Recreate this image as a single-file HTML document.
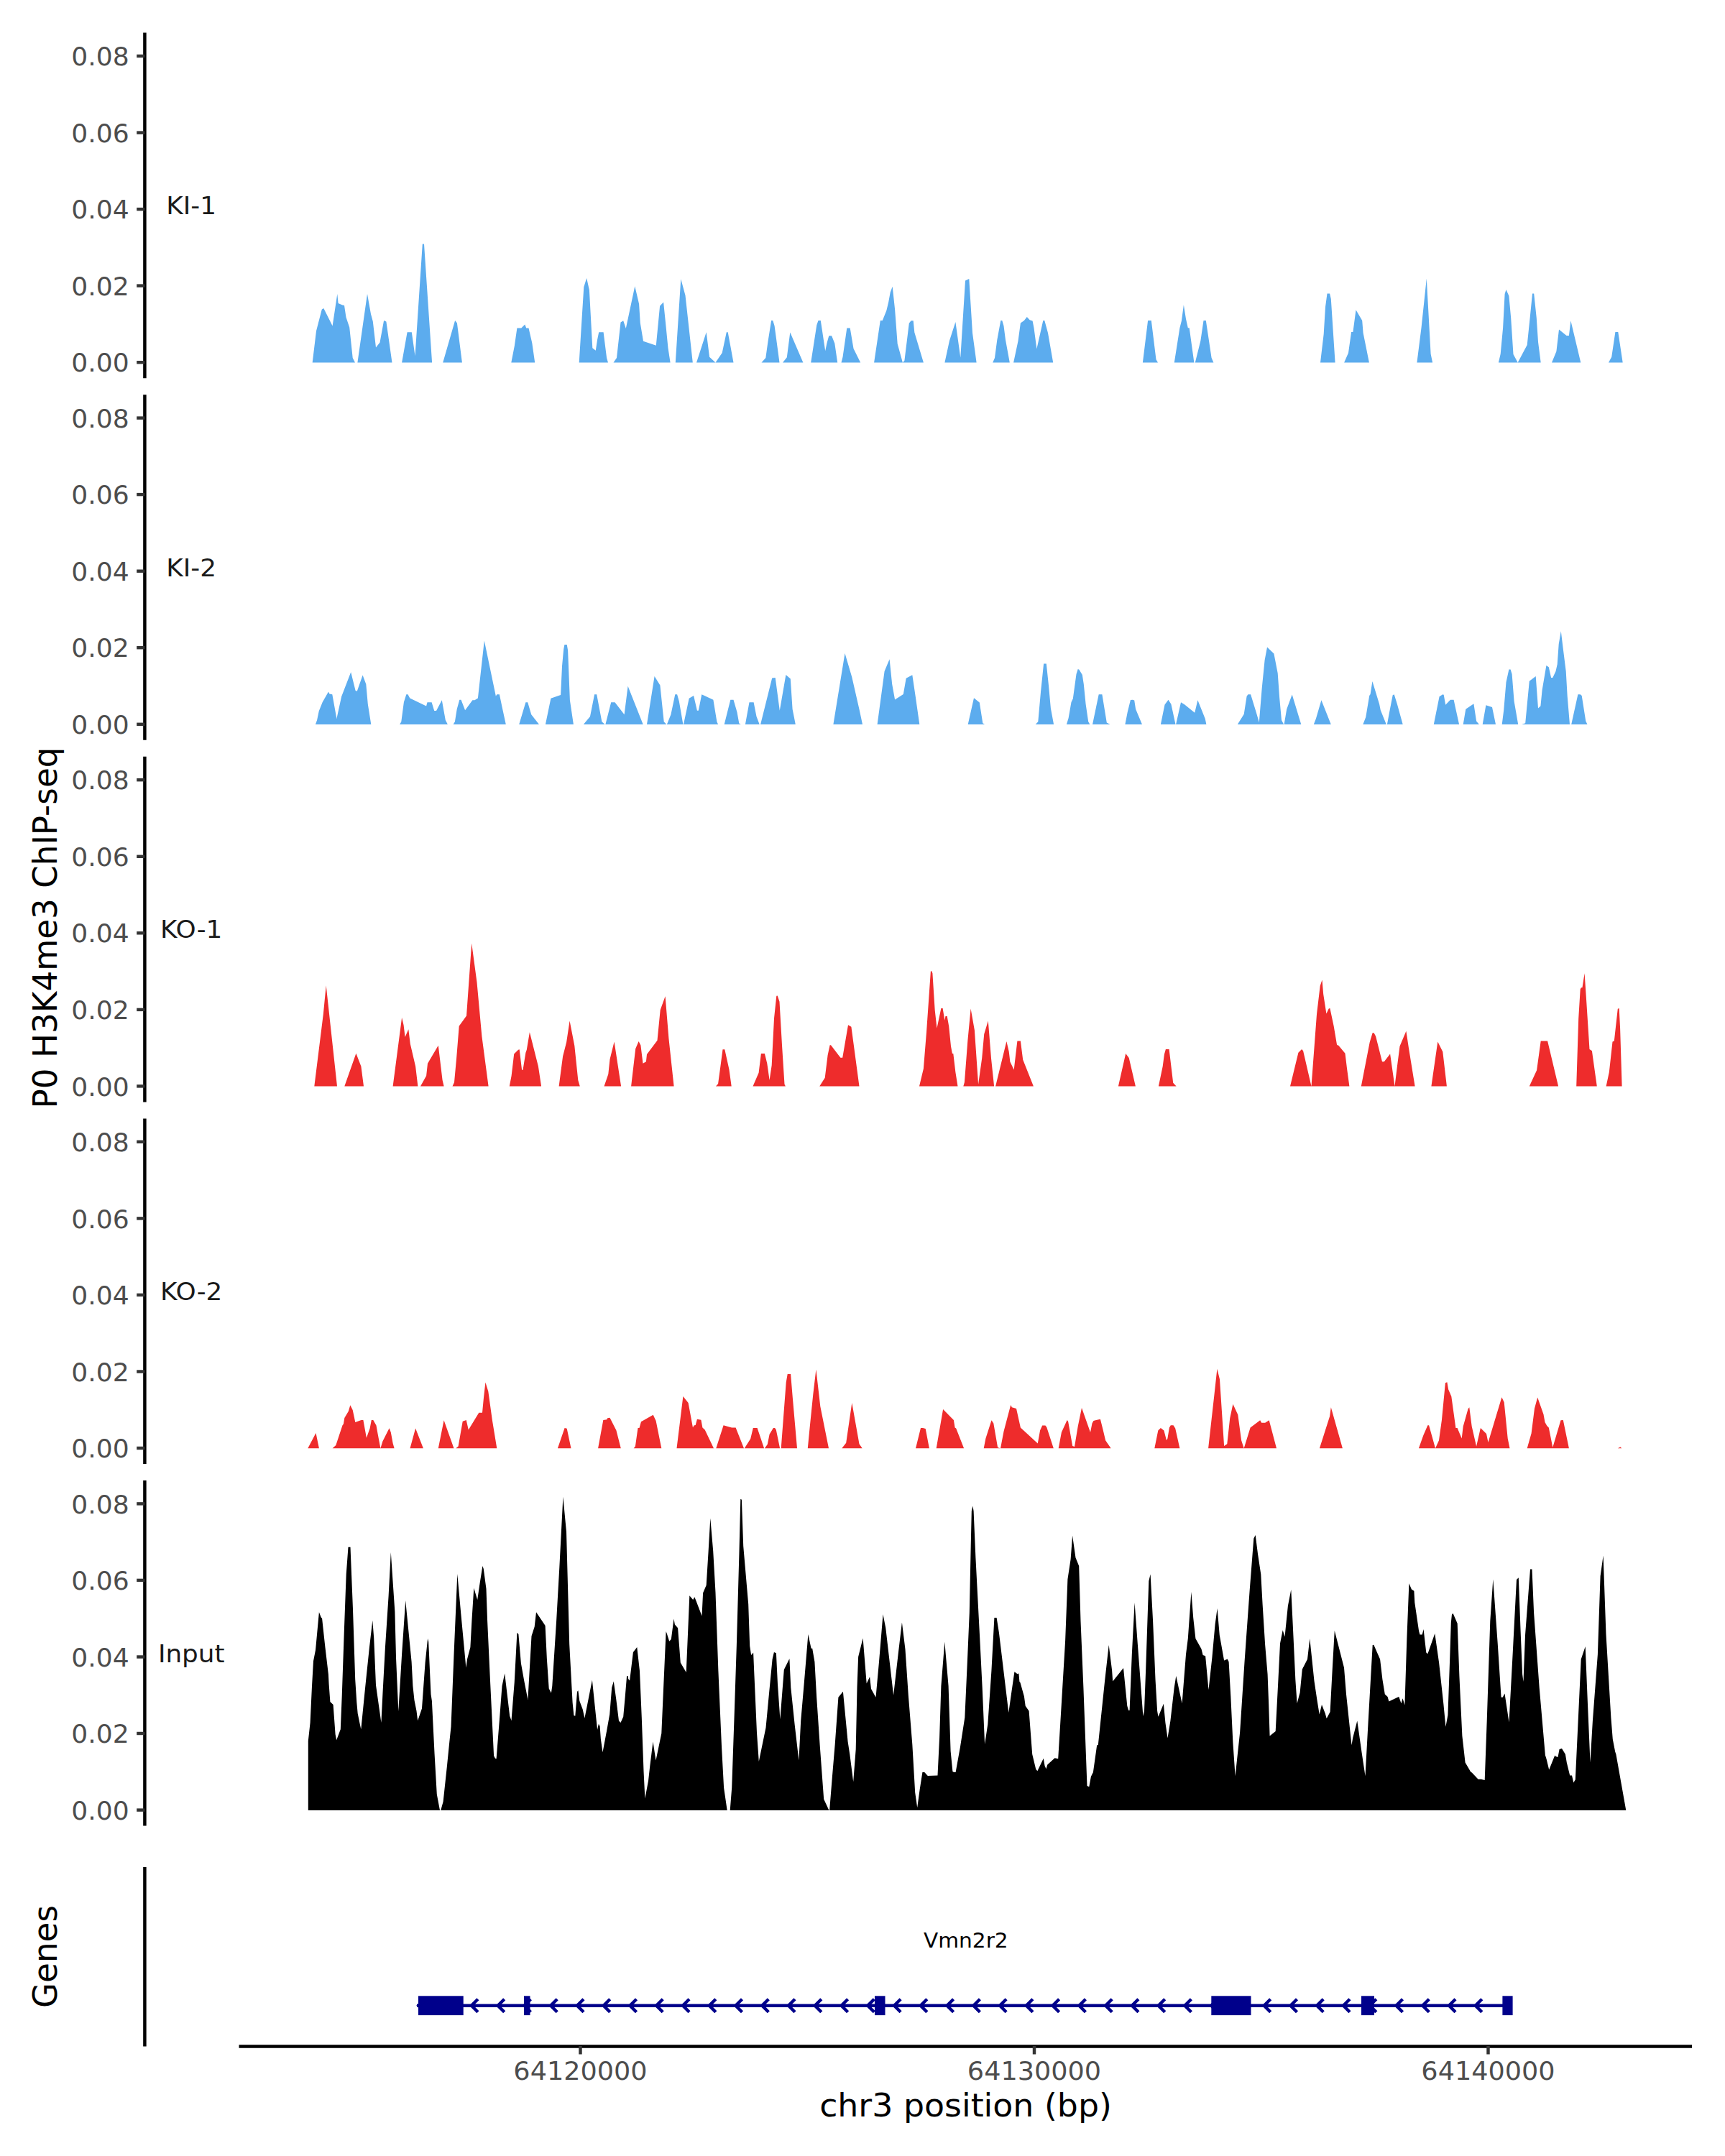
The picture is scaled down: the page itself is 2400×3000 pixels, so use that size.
<!DOCTYPE html>
<html><head><meta charset="utf-8"><title>Coverage plot</title>
<style>html,body{margin:0;padding:0;background:#fff}svg{display:block}text{font-family:"DejaVu Sans","Liberation Sans",sans-serif}</style></head>
<body>
<svg width="2400" height="3000" viewBox="0 0 2400 3000">
<rect width="2400" height="3000" fill="#fff"/>
<g>
<path d="M434.7,504.4 440.0,460.5 447.8,430.5 450.3,429.1 462.6,453.6 469.3,409.0 470.6,422.1 476.5,424.6 479.0,424.9 481.5,441.6 486.2,455.5 490.7,498.1 494.0,504.4ZM497.4,504.4 511.0,409.0 516.0,436.9 518.8,447.2 523.0,483.6 528.5,476.4 534.1,446.1 537.4,447.4 545.5,504.4ZM559.1,504.4 566.6,462.2 572.8,462.2 577.5,495.3 587.8,339.5 590.0,339.5 601.1,504.4ZM616.2,504.4 633.1,446.1 635.9,449.4 642.9,504.4ZM711.3,504.4 715.8,481.4 719.4,456.6 725.3,456.6 730.3,451.6 732.2,456.6 735.5,456.6 740.3,477.2 744.2,504.4ZM805.7,504.4 812.3,399.3 816.2,387.1 819.9,403.5 824.3,484.2 828.8,487.8 831.0,473.0 833.2,462.2 839.6,462.2 844.1,498.1 846.0,504.4ZM853.5,504.4 858.0,498.1 863.5,448.6 867.2,446.3 870.8,456.9 883.3,398.2 889.1,423.0 890.8,449.4 895.0,474.7 912.8,480.8 918.1,425.7 923.1,420.5 926.2,450.8 929.5,484.2 932.6,504.4ZM939.8,504.4 947.3,388.2 953.5,411.0 963.8,504.4ZM969.0,504.4 982.7,462.2 987.1,496.7 995.5,504.4 1004.7,491.1 1010.8,462.2 1012.7,462.2 1020.5,504.4ZM1059.5,504.4 1065.3,498.1 1068.4,475.8 1073.1,446.1 1075.3,446.1 1077.6,453.6 1084.5,504.4ZM1089.0,504.4 1094.8,497.3 1099.3,462.5 1117.4,504.4ZM1128.2,504.4 1136.3,452.2 1138.5,446.1 1141.8,446.1 1148.2,488.3 1150.5,477.2 1153.3,467.2 1157.1,467.2 1161.3,477.8 1165.2,504.4ZM1170.5,504.4 1172.5,496.7 1178.3,456.6 1182.7,456.6 1187.5,485.0 1197.2,504.4ZM1216.1,504.4 1224.8,446.1 1227.8,446.1 1233.4,432.1 1236.2,420.2 1238.7,406.8 1241.7,398.7 1245.1,430.5 1248.7,478.6 1255.9,504.4 1258.4,501.7 1264.8,449.7 1267.6,446.3 1270.7,446.3 1272.3,462.5 1284.9,504.4ZM1314.4,504.4 1321.0,473.9 1329.4,448.0 1336.3,497.5 1343.0,390.4 1348.3,387.9 1353.0,463.3 1358.6,504.4ZM1381.2,504.4 1384.0,498.1 1387.3,473.0 1392.3,446.1 1394.3,446.1 1396.5,453.6 1399.0,473.0 1404.8,504.4ZM1410.1,504.4 1416.5,474.4 1419.9,449.4 1424.9,446.1 1428.8,441.0 1432.7,445.2 1436.6,446.6 1438.5,456.3 1442.4,485.6 1451.3,446.1 1453.3,446.1 1458.0,463.3 1465.2,504.4ZM1589.9,504.4 1597.1,446.1 1601.8,446.1 1608.5,500.3 1611.0,504.4ZM1630.8,504.4 1633.8,504.4 1641.4,456.3 1643.9,446.6 1646.9,424.3 1650.0,443.8 1652.8,456.3 1654.7,456.3 1661.4,504.4ZM1662.8,504.4 1670.3,474.4 1674.5,446.1 1677.8,446.1 1685.6,498.1 1688.4,504.4ZM1837.0,504.4 1841.7,464.7 1844.0,427.1 1846.5,408.5 1850.1,408.5 1851.8,416.0 1857.6,504.4ZM1870.1,504.4 1876.0,491.1 1880.1,461.9 1882.4,461.9 1886.5,431.3 1895.2,446.1 1896.6,463.3 1904.9,504.4ZM1971.4,504.4 1977.5,456.3 1984.8,387.6 1990.6,492.5 1993.1,504.4ZM2084.9,504.4 2087.7,492.5 2091.1,456.3 2093.6,409.0 2095.5,402.9 2099.4,411.8 2102.2,442.4 2105.5,493.1 2111.7,504.4 2124.7,480.0 2128.6,442.4 2132.0,408.5 2134.2,408.5 2137.8,442.4 2140.0,475.8 2143.7,504.4ZM2159.0,504.4 2165.4,488.9 2169.0,458.6 2179.5,466.9 2182.9,466.9 2185.4,446.3 2199.3,504.4ZM2238.0,504.4 2242.2,496.7 2247.4,461.9 2251.3,461.9 2257.7,504.4Z" fill="#5CACEE"/>
<line x1="201.4" x2="201.4" y1="45.6" y2="526.2" stroke="#000" stroke-width="4.45"/>
<line x1="190.2" x2="201.4" y1="504.2" y2="504.2" stroke="#333" stroke-width="4.45"/>
<text transform="translate(179.7,517.3) scale(1,0.962)" font-size="36.1" fill="#4D4D4D" text-anchor="end">0.00</text>
<line x1="190.2" x2="201.4" y1="397.6" y2="397.6" stroke="#333" stroke-width="4.45"/>
<text transform="translate(179.7,410.8) scale(1,0.962)" font-size="36.1" fill="#4D4D4D" text-anchor="end">0.02</text>
<line x1="190.2" x2="201.4" y1="291.1" y2="291.1" stroke="#333" stroke-width="4.45"/>
<text transform="translate(179.7,304.2) scale(1,0.962)" font-size="36.1" fill="#4D4D4D" text-anchor="end">0.04</text>
<line x1="190.2" x2="201.4" y1="184.6" y2="184.6" stroke="#333" stroke-width="4.45"/>
<text transform="translate(179.7,197.7) scale(1,0.962)" font-size="36.1" fill="#4D4D4D" text-anchor="end">0.06</text>
<line x1="190.2" x2="201.4" y1="78.0" y2="78.0" stroke="#333" stroke-width="4.45"/>
<text transform="translate(179.7,91.1) scale(1,0.962)" font-size="36.1" fill="#4D4D4D" text-anchor="end">0.08</text>
<text transform="translate(266.2,298.2) scale(1,0.962)" font-size="35.8" fill="#1A1A1A" text-anchor="middle">KI-1</text>
</g>
<g>
<path d="M438.9,1008.0 441.1,1002.1 443.7,989.6 448.7,977.0 457.0,962.6 458.4,965.4 462.3,966.2 468.4,1000.1 475.1,969.3 488.2,935.3 494.6,960.9 496.8,961.7 504.6,939.5 509.3,952.0 511.8,979.8 516.3,1008.0ZM556.1,1008.0 558.3,1004.3 561.9,977.0 565.3,966.2 567.5,966.2 570.3,971.5 593.1,982.6 594.5,977.3 600.6,977.3 604.2,989.0 607.0,989.0 614.8,974.3 619.8,1002.1 622.9,1008.0ZM630.6,1008.0 632.9,1004.3 635.7,986.8 639.3,973.7 641.5,973.7 647.1,988.2 657.4,974.3 660.4,974.3 664.9,971.5 673.8,891.6 689.9,968.7 691.3,966.2 694.9,966.2 698.3,982.6 703.8,1008.0ZM722.2,1008.0 731.4,977.3 734.2,977.3 739.2,994.3 750.0,1008.0ZM758.9,1008.0 766.4,971.8 780.1,967.0 782.0,927.0 784.2,903.3 785.4,896.9 788.7,896.9 790.1,904.7 792.9,974.3 797.9,1008.0ZM811.8,1008.0 821.0,997.1 827.1,966.2 830.2,966.2 837.4,1004.3 841.6,1008.0ZM842.4,1008.0 850.2,977.3 855.5,977.3 868.6,994.3 873.6,954.8 894.7,1008.0ZM900.0,1008.0 910.6,940.9 918.4,953.4 923.7,1004.3 927.3,1008.0ZM927.9,1008.0 933.4,994.3 939.3,966.2 942.1,966.2 944.8,975.7 950.4,1008.0ZM951.0,1008.0 958.7,971.8 965.1,968.1 969.9,988.7 971.8,988.7 976.3,966.2 992.4,973.7 997.4,1004.3 999.1,1008.0ZM1007.7,1008.0 1016.3,973.7 1020.5,973.7 1025.5,991.0 1028.3,1006.5 1030.8,1008.0ZM1036.9,1008.0 1042.5,977.3 1048.6,977.3 1052.5,997.1 1056.7,1008.0ZM1058.1,1008.0 1074.2,943.4 1078.7,943.1 1084.8,988.7 1093.4,938.9 1099.8,944.5 1102.6,986.8 1106.8,1008.0ZM1159.4,1008.0 1175.5,908.9 1185.3,942.3 1195.8,988.2 1200.0,1008.0ZM1220.6,1008.0 1230.6,933.9 1237.6,917.2 1241.2,952.0 1245.1,973.4 1256.8,965.9 1260.7,943.7 1269.3,939.2 1273.7,968.7 1279.3,1008.0ZM1346.7,1008.0 1355.0,971.2 1362.8,977.6 1367.3,1006.3 1370.1,1008.0ZM1440.7,1008.0 1444.3,1004.3 1448.0,963.1 1452.1,923.6 1455.8,923.6 1459.1,954.8 1461.9,985.4 1466.1,1008.0ZM1483.9,1008.0 1486.6,999.3 1490.5,977.0 1492.8,972.3 1497.5,938.1 1499.7,931.1 1501.4,931.7 1505.8,938.9 1507.8,952.0 1510.6,979.8 1514.2,1004.3 1516.4,1008.0ZM1520.0,1008.0 1528.7,966.2 1533.4,966.2 1539.8,1005.4 1544.5,1008.0ZM1551.5,1008.0 1565.4,1008.0 1568.7,991.0 1572.9,974.0 1575.7,973.7 1578.2,974.5 1580.1,986.8 1589.0,1008.0ZM1614.9,1008.0 1620.5,980.4 1625.5,973.7 1629.4,979.8 1635.5,1008.0ZM1636.1,1008.0 1643.0,977.3 1648.3,980.4 1662.2,991.8 1666.4,974.3 1676.7,999.9 1678.4,1008.0ZM1721.8,1008.0 1730.7,993.7 1734.6,968.7 1736.5,966.2 1740.1,966.2 1747.7,991.0 1751.8,1004.9 1755.7,957.6 1759.6,918.6 1763.0,900.5 1772.4,909.4 1777.7,936.7 1780.2,971.5 1783.0,1002.1 1786.1,1008.0ZM1786.6,1008.0 1790.2,986.8 1797.7,966.5 1810.3,1008.0ZM1827.8,1008.0 1830.9,999.9 1838.4,974.3 1851.8,1008.0ZM1896.3,1008.0 1900.2,997.9 1905.2,967.9 1906.6,965.9 1909.4,948.1 1919.1,979.8 1920.8,988.2 1928.8,1008.0ZM1929.9,1008.0 1933.6,988.2 1937.7,967.3 1939.7,966.2 1943.9,979.8 1951.7,1008.0ZM1994.8,1008.0 2002.6,969.3 2007.3,966.2 2008.7,966.7 2011.2,980.7 2017.9,973.7 2022.6,973.7 2025.4,986.8 2030.1,1008.0ZM2035.7,1008.0 2039.3,986.8 2050.4,979.3 2054.1,1003.5 2057.9,1008.0ZM2062.7,1008.0 2067.4,981.2 2076.0,984.0 2081.0,1008.0ZM2089.7,1008.0 2092.2,988.2 2095.5,949.2 2099.4,931.4 2101.6,931.4 2103.6,938.1 2106.6,975.7 2112.2,1008.0ZM2117.2,1008.0 2122.2,1006.3 2127.8,947.8 2136.7,941.1 2140.0,985.4 2143.4,982.6 2145.6,960.3 2151.4,926.1 2154.8,928.3 2158.1,943.1 2160.3,943.1 2164.5,933.9 2166.7,924.2 2168.7,896.3 2171.8,878.3 2174.3,899.1 2178.7,933.9 2180.7,968.7 2184.0,1008.0ZM2186.2,1008.0 2195.4,966.2 2198.7,966.2 2200.7,968.1 2206.3,1003.5 2208.5,1008.0Z" fill="#5CACEE"/>
<line x1="201.4" x2="201.4" y1="549.2" y2="1029.8" stroke="#000" stroke-width="4.45"/>
<line x1="190.2" x2="201.4" y1="1007.8" y2="1007.8" stroke="#333" stroke-width="4.45"/>
<text transform="translate(179.7,1020.9) scale(1,0.962)" font-size="36.1" fill="#4D4D4D" text-anchor="end">0.00</text>
<line x1="190.2" x2="201.4" y1="901.2" y2="901.2" stroke="#333" stroke-width="4.45"/>
<text transform="translate(179.7,914.4) scale(1,0.962)" font-size="36.1" fill="#4D4D4D" text-anchor="end">0.02</text>
<line x1="190.2" x2="201.4" y1="794.7" y2="794.7" stroke="#333" stroke-width="4.45"/>
<text transform="translate(179.7,807.8) scale(1,0.962)" font-size="36.1" fill="#4D4D4D" text-anchor="end">0.04</text>
<line x1="190.2" x2="201.4" y1="688.1" y2="688.1" stroke="#333" stroke-width="4.45"/>
<text transform="translate(179.7,701.2) scale(1,0.962)" font-size="36.1" fill="#4D4D4D" text-anchor="end">0.06</text>
<line x1="190.2" x2="201.4" y1="581.6" y2="581.6" stroke="#333" stroke-width="4.45"/>
<text transform="translate(179.7,594.7) scale(1,0.962)" font-size="36.1" fill="#4D4D4D" text-anchor="end">0.08</text>
<text transform="translate(266.2,801.8) scale(1,0.962)" font-size="35.8" fill="#1A1A1A" text-anchor="middle">KI-2</text>
</g>
<g>
<path d="M437.3,1511.6 449.8,1411.3 453.7,1371.2 469.0,1511.6ZM479.3,1511.6 495.4,1465.8 502.4,1483.7 506.0,1511.6ZM546.6,1511.6 559.1,1416.0 561.6,1426.6 563.6,1443.0 568.3,1432.2 570.8,1452.5 578.1,1483.7 581.4,1511.6ZM585.0,1511.6 593.1,1497.0 595.0,1479.8 609.8,1454.7 615.6,1503.1 617.6,1511.6ZM629.5,1511.6 632.0,1505.9 635.1,1472.5 638.7,1427.7 649.0,1413.5 656.2,1312.5 663.5,1366.8 670.4,1441.9 679.6,1511.6ZM708.8,1511.6 711.6,1497.0 715.2,1466.4 721.1,1460.8 722.7,1460.3 726.1,1488.7 727.5,1488.7 731.4,1464.7 732.8,1460.8 736.9,1436.3 748.9,1483.7 753.1,1511.6ZM777.6,1511.6 783.1,1469.7 788.1,1450.3 792.6,1420.5 799.3,1455.0 804.3,1503.1 806.8,1511.6ZM840.5,1511.6 846.3,1494.8 848.5,1473.9 854.6,1449.4 864.1,1511.6ZM878.1,1511.6 884.2,1459.2 888.6,1449.1 891.4,1454.4 894.5,1479.8 898.9,1477.3 900.0,1467.0 914.5,1447.8 918.7,1405.2 925.6,1386.3 930.4,1444.7 937.6,1511.6ZM996.0,1511.6 999.1,1508.1 1002.4,1483.7 1005.5,1460.3 1008.3,1460.3 1014.4,1487.8 1017.7,1511.6ZM1047.5,1511.6 1055.6,1492.8 1058.9,1466.1 1063.9,1466.1 1067.3,1479.8 1070.6,1503.1 1073.7,1482.3 1077.0,1416.9 1080.3,1385.7 1081.7,1385.4 1084.5,1393.8 1088.1,1455.8 1091.5,1508.7 1092.9,1511.6ZM1140.2,1511.6 1147.7,1499.8 1151.6,1468.3 1154.6,1454.2 1156.0,1454.2 1169.4,1471.7 1172.2,1471.7 1180.0,1426.3 1184.4,1428.8 1195.5,1511.6ZM1279.0,1511.6 1284.9,1487.0 1289.0,1436.3 1294.9,1351.5 1296.3,1351.2 1297.4,1354.3 1300.7,1405.7 1303.5,1430.8 1309.4,1403.0 1311.6,1403.0 1314.4,1419.7 1315.5,1414.1 1317.7,1414.1 1320.2,1428.0 1323.0,1455.8 1324.9,1466.1 1326.3,1466.1 1329.4,1492.0 1332.5,1511.6ZM1340.3,1511.6 1341.9,1505.9 1346.4,1447.5 1350.6,1403.5 1355.9,1433.6 1361.1,1508.7 1366.2,1472.5 1369.2,1439.1 1374.8,1420.5 1379.0,1472.5 1383.1,1511.6ZM1385.1,1511.6 1400.4,1448.9 1403.7,1463.3 1405.4,1477.5 1410.7,1488.4 1413.2,1467.0 1415.4,1448.6 1419.9,1448.6 1423.2,1474.5 1437.9,1511.6ZM1555.9,1511.6 1566.2,1466.1 1570.7,1472.0 1579.9,1511.6ZM1611.9,1511.6 1617.7,1483.7 1619.9,1467.0 1621.9,1460.0 1626.6,1460.0 1632.2,1506.7 1636.6,1511.6ZM1795.0,1511.6 1806.4,1464.7 1811.1,1460.0 1813.1,1462.2 1824.5,1511.6 1827.0,1478.1 1832.0,1411.3 1836.7,1371.8 1839.5,1363.4 1841.2,1383.5 1845.4,1410.5 1848.7,1403.5 1850.4,1403.0 1855.7,1428.0 1860.1,1453.9 1862.3,1454.7 1871.5,1465.8 1874.0,1486.4 1877.4,1511.6ZM1893.8,1511.6 1905.7,1450.3 1909.6,1437.2 1911.6,1437.2 1914.1,1441.9 1923.0,1477.3 1925.8,1477.3 1934.1,1466.4 1940.5,1511.6 1943.9,1483.7 1947.5,1455.8 1956.4,1434.7 1960.0,1458.6 1968.6,1511.6ZM1991.4,1511.6 2000.3,1449.4 2007.3,1463.6 2012.9,1511.6ZM2127.8,1511.6 2138.1,1489.2 2143.7,1448.6 2153.1,1448.6 2168.1,1511.6ZM2193.2,1511.6 2196.2,1416.9 2198.7,1376.5 2199.9,1374.3 2201.5,1374.3 2204.6,1354.3 2207.1,1391.8 2211.5,1460.0 2214.9,1462.2 2221.8,1511.6ZM2234.6,1511.6 2238.8,1492.0 2243.5,1449.4 2245.8,1448.6 2250.8,1403.8 2252.7,1403.0 2254.1,1430.8 2256.6,1511.6Z" fill="#EE2C2C"/>
<line x1="201.4" x2="201.4" y1="1052.8" y2="1533.4" stroke="#000" stroke-width="4.45"/>
<line x1="190.2" x2="201.4" y1="1511.4" y2="1511.4" stroke="#333" stroke-width="4.45"/>
<text transform="translate(179.7,1524.5) scale(1,0.962)" font-size="36.1" fill="#4D4D4D" text-anchor="end">0.00</text>
<line x1="190.2" x2="201.4" y1="1404.9" y2="1404.9" stroke="#333" stroke-width="4.45"/>
<text transform="translate(179.7,1418.0) scale(1,0.962)" font-size="36.1" fill="#4D4D4D" text-anchor="end">0.02</text>
<line x1="190.2" x2="201.4" y1="1298.3" y2="1298.3" stroke="#333" stroke-width="4.45"/>
<text transform="translate(179.7,1311.4) scale(1,0.962)" font-size="36.1" fill="#4D4D4D" text-anchor="end">0.04</text>
<line x1="190.2" x2="201.4" y1="1191.8" y2="1191.8" stroke="#333" stroke-width="4.45"/>
<text transform="translate(179.7,1204.8) scale(1,0.962)" font-size="36.1" fill="#4D4D4D" text-anchor="end">0.06</text>
<line x1="190.2" x2="201.4" y1="1085.2" y2="1085.2" stroke="#333" stroke-width="4.45"/>
<text transform="translate(179.7,1098.3) scale(1,0.962)" font-size="36.1" fill="#4D4D4D" text-anchor="end">0.08</text>
<text transform="translate(266.2,1305.4) scale(1,0.962)" font-size="35.8" fill="#1A1A1A" text-anchor="middle">KO-1</text>
</g>
<g>
<path d="M428.3,2015.2 439.5,1993.9 443.9,2015.2ZM462.6,2015.2 467.3,2010.9 476.5,1983.3 477.9,1981.4 479.3,1973.0 484.8,1963.8 487.3,1955.2 490.7,1961.9 494.3,1979.1 502.6,1976.1 505.4,1976.1 509.9,2000.8 514.6,1987.5 516.8,1976.1 519.3,1976.1 523.5,1983.6 525.7,1995.8 529.4,2015.2 532.4,2005.6 541.6,1987.2 543.8,1993.0 546.6,2008.3 548.6,2015.2ZM570.5,2015.2 578.1,1987.5 588.9,2015.2ZM609.8,2015.2 617.6,1976.3 631.5,2015.2ZM634.3,2015.2 637.6,2012.5 643.7,1977.7 648.7,1976.1 651.8,1989.4 666.3,1965.8 671.0,1965.8 672.9,1945.7 675.4,1923.5 679.3,1936.0 684.9,1976.3 691.3,2015.2ZM775.9,2015.2 785.6,1986.9 788.7,1987.8 794.5,2015.2ZM832.1,2015.2 839.3,1976.1 844.3,1975.2 845.2,1973.3 848.5,1972.7 857.4,1990.3 863.8,2015.2ZM881.7,2015.2 883.9,2012.5 887.5,1986.9 889.5,1986.9 892.0,1978.3 908.7,1968.8 912.6,1976.9 920.3,2015.2ZM941.5,2015.2 950.4,1943.0 957.6,1952.1 964.0,1986.6 965.4,1983.6 967.7,1983.0 969.9,1974.7 975.4,1975.8 977.4,1986.4 980.7,1989.4 993.0,2015.2ZM996.3,2015.2 1006.6,1983.3 1018.3,1986.6 1023.6,1986.6 1035.0,2015.2ZM1035.8,2015.2 1044.2,2001.9 1047.8,1986.9 1053.6,1986.9 1063.1,2015.2ZM1063.9,2015.2 1067.8,2009.7 1070.6,1995.8 1075.9,1986.9 1078.1,1986.9 1079.8,1989.4 1085.1,2015.2ZM1086.7,2015.2 1093.7,1923.5 1095.7,1912.1 1100.1,1912.1 1102.9,1945.7 1109.0,2015.2ZM1119.3,2015.2 1123.8,2015.2 1126.5,1987.5 1131.3,1940.2 1135.4,1905.4 1141.3,1956.9 1153.0,2015.2ZM1171.3,2015.2 1177.2,2007.8 1185.3,1952.1 1195.5,2009.2 1199.7,2015.2ZM1274.0,2015.2 1281.0,1986.9 1284.0,1986.9 1287.7,1988.0 1292.9,2015.2ZM1302.7,2015.2 1312.1,1961.0 1326.9,1976.1 1328.6,1986.4 1330.2,1987.5 1341.1,2015.2ZM1368.7,2015.2 1371.4,2001.4 1379.5,1976.3 1382.3,1980.5 1388.1,2013.9 1391.5,2015.2ZM1392.0,2015.2 1396.5,1991.7 1406.2,1954.9 1407.9,1958.3 1414.0,1959.9 1419.9,1986.6 1443.8,2008.6 1447.1,1990.3 1450.2,1983.6 1454.4,1983.6 1456.3,1986.1 1465.8,2015.2ZM1472.7,2015.2 1476.9,1993.0 1484.7,1976.1 1486.1,1977.7 1492.2,2012.0 1495.0,2013.1 1499.7,1984.7 1505.0,1959.1 1517.0,1993.0 1519.5,1980.5 1521.4,1976.9 1530.9,1974.7 1534.8,1990.3 1538.1,2004.2 1545.6,2015.2ZM1606.3,2015.2 1611.3,1990.5 1614.9,1986.9 1619.4,1990.5 1623.0,2004.2 1624.4,2001.4 1626.9,1986.6 1628.8,1983.3 1632.5,1983.3 1635.2,1987.5 1641.4,2015.2ZM1681.1,2015.2 1689.2,1943.0 1693.4,1904.8 1697.0,1919.3 1703.1,2012.0 1707.3,2009.2 1711.2,1973.6 1715.4,1953.8 1722.3,1968.6 1727.1,2004.2 1730.7,2015.2 1739.6,1986.6 1753.2,1976.3 1755.2,1979.7 1760.2,1979.7 1765.7,1976.3 1776.0,2015.2ZM1835.9,2015.2 1850.1,1970.8 1851.8,1958.3 1867.9,2015.2ZM1973.9,2015.2 1980.3,1997.2 1986.4,1983.3 1988.1,1983.3 1997.0,2015.2 2002.0,2004.2 2005.9,1976.3 2010.9,1924.3 2013.4,1923.2 2015.1,1933.2 2019.3,1943.0 2025.4,1986.9 2027.6,1986.9 2033.7,2001.4 2035.7,1984.7 2042.6,1960.2 2044.3,1958.3 2047.7,1984.7 2054.1,2012.5 2059.9,1986.9 2068.0,1995.0 2070.5,2007.0 2089.4,1944.3 2092.7,1951.3 2097.7,2001.4 2100.5,2015.2ZM2124.7,2015.2 2130.6,1994.4 2135.0,1959.7 2139.2,1944.6 2147.5,1968.0 2149.5,1979.1 2152.3,1984.1 2154.8,1986.6 2160.3,2013.9 2171.5,1976.3 2174.8,1976.1 2182.9,2015.2ZM2250.8,2015.2 2254.4,2013.6 2256.3,2015.2Z" fill="#EE2C2C"/>
<line x1="201.4" x2="201.4" y1="1556.4" y2="2037.0" stroke="#000" stroke-width="4.45"/>
<line x1="190.2" x2="201.4" y1="2015.0" y2="2015.0" stroke="#333" stroke-width="4.45"/>
<text transform="translate(179.7,2028.1) scale(1,0.962)" font-size="36.1" fill="#4D4D4D" text-anchor="end">0.00</text>
<line x1="190.2" x2="201.4" y1="1908.5" y2="1908.5" stroke="#333" stroke-width="4.45"/>
<text transform="translate(179.7,1921.6) scale(1,0.962)" font-size="36.1" fill="#4D4D4D" text-anchor="end">0.02</text>
<line x1="190.2" x2="201.4" y1="1801.9" y2="1801.9" stroke="#333" stroke-width="4.45"/>
<text transform="translate(179.7,1815.0) scale(1,0.962)" font-size="36.1" fill="#4D4D4D" text-anchor="end">0.04</text>
<line x1="190.2" x2="201.4" y1="1695.4" y2="1695.4" stroke="#333" stroke-width="4.45"/>
<text transform="translate(179.7,1708.5) scale(1,0.962)" font-size="36.1" fill="#4D4D4D" text-anchor="end">0.06</text>
<line x1="190.2" x2="201.4" y1="1588.8" y2="1588.8" stroke="#333" stroke-width="4.45"/>
<text transform="translate(179.7,1601.9) scale(1,0.962)" font-size="36.1" fill="#4D4D4D" text-anchor="end">0.08</text>
<text transform="translate(266.2,1809.0) scale(1,0.962)" font-size="35.8" fill="#1A1A1A" text-anchor="middle">KO-2</text>
</g>
<g>
<path d="M428.8,2519.0 428.8,2422.5 431.6,2397.0 433.9,2348.3 436.0,2311.2 439.0,2296.1 443.9,2243.2 446.7,2250.4 448.1,2252.0 452.5,2292.6 456.9,2329.7 457.6,2343.6 459.4,2368.0 463.6,2372.1 466.6,2413.2 468.2,2421.3 473.8,2406.2 475.7,2359.9 478.9,2267.1 481.7,2190.6 484.5,2152.8 487.5,2152.8 491.0,2239.3 494.2,2336.7 496.3,2369.1 497.7,2384.2 500.5,2398.1 502.3,2406.2 508.1,2348.3 513.9,2292.6 518.3,2254.8 520.2,2278.7 523.0,2344.8 527.1,2373.8 530.4,2397.0 532.5,2355.2 535.9,2292.6 540.6,2220.7 543.8,2160.0 549.4,2242.8 551.0,2306.5 554.3,2381.2 559.1,2301.9 564.2,2227.0 572.6,2312.3 574.4,2345.9 576.5,2365.7 579.5,2380.7 581.2,2394.2 587.0,2377.2 591.6,2313.5 595.1,2279.9 596.2,2284.5 599.5,2357.5 600.9,2366.8 604.6,2441.0 607.8,2496.7 612.0,2519.0 613.2,2519.0 616.6,2507.1 621.7,2459.6 625.2,2424.8 627.5,2402.8 631.5,2301.9 634.3,2237.0 636.3,2190.1 641.4,2246.2 648.4,2320.4 650.0,2308.8 654.4,2291.9 656.5,2253.2 659.3,2209.8 664.2,2226.1 667.7,2202.2 671.4,2179.0 672.8,2182.9 676.5,2210.8 678.1,2255.5 682.0,2339.0 687.1,2443.3 689.0,2446.8 690.6,2447.3 694.8,2394.6 698.5,2345.9 702.2,2328.6 709.2,2387.7 711.5,2393.9 715.7,2341.3 719.4,2271.7 721.4,2274.1 724.9,2314.6 729.3,2339.0 734.4,2365.0 739.5,2276.4 743.7,2263.6 746.0,2243.2 758.6,2262.0 760.9,2308.8 763.7,2349.4 766.9,2355.7 768.3,2345.9 774.1,2255.5 778.3,2181.3 783.4,2082.8 788.0,2131.4 792.2,2288.0 796.6,2369.1 798.4,2387.0 800.3,2387.7 803.0,2354.1 804.4,2352.2 806.3,2366.8 810.7,2378.4 813.4,2390.7 818.6,2364.5 823.9,2337.8 827.4,2371.4 831.1,2406.7 832.9,2398.8 834.6,2402.1 835.9,2420.1 838.5,2438.2 844.1,2408.6 848.2,2385.4 851.2,2348.3 853.8,2339.4 857.3,2364.5 861.0,2394.6 863.5,2397.0 867.2,2388.8 869.6,2362.2 872.1,2332.0 873.5,2332.0 874.2,2336.2 876.1,2338.5 880.9,2299.1 886.3,2291.9 890.0,2325.1 892.8,2390.0 895.5,2464.2 897.4,2502.5 902.0,2478.1 904.3,2457.2 908.5,2423.6 912.5,2449.6 920.3,2412.0 922.9,2352.9 926.6,2270.1 927.8,2272.9 931.2,2283.8 933.8,2281.0 937.5,2252.5 938.9,2260.6 943.1,2265.2 946.8,2313.5 954.7,2326.9 956.8,2278.7 959.3,2220.3 964.2,2226.1 966.3,2222.3 968.1,2226.5 976.5,2248.6 978.1,2216.6 982.7,2205.7 985.5,2160.4 988.3,2112.4 992.2,2158.1 995.5,2216.1 999.4,2325.1 1004.1,2431.7 1007.1,2487.4 1011.7,2519.0 1015.7,2519.0 1018.2,2487.4 1021.4,2394.6 1024.9,2288.0 1028.4,2162.8 1030.3,2085.8 1031.9,2086.7 1034.2,2151.2 1041.2,2232.3 1043.2,2290.3 1045.1,2303.0 1048.1,2299.6 1049.5,2332.0 1053.0,2410.9 1055.8,2451.0 1065.5,2403.9 1070.1,2355.2 1074.6,2308.8 1076.9,2299.1 1079.9,2300.3 1082.0,2343.6 1085.4,2392.3 1090.8,2323.2 1098.4,2308.1 1100.3,2348.3 1105.6,2399.3 1111.4,2449.4 1114.2,2394.6 1118.8,2341.3 1124.4,2274.1 1128.6,2293.8 1130.2,2293.8 1133.4,2312.3 1136.2,2362.2 1140.9,2431.7 1146.2,2503.6 1153.4,2519.0 1154.1,2519.0 1157.6,2475.8 1161.7,2427.1 1166.4,2361.7 1172.9,2353.8 1179.6,2423.6 1182.3,2441.0 1187.2,2479.3 1190.7,2434.1 1192.5,2348.3 1194.1,2305.4 1200.6,2279.4 1205.7,2342.5 1210.1,2333.2 1212.0,2350.1 1218.5,2361.7 1222.9,2313.5 1228.5,2246.2 1232.2,2264.8 1243.1,2358.7 1249.6,2301.9 1254.9,2257.4 1259.5,2294.9 1263.9,2359.9 1269.3,2427.1 1273.2,2494.3 1276.2,2515.2 1279.7,2489.7 1283.4,2466.1 1286.2,2466.1 1290.8,2470.9 1304.5,2470.5 1307.1,2417.8 1309.4,2345.9 1314.3,2284.5 1319.6,2345.9 1322.6,2436.4 1325.4,2464.9 1327.2,2466.1 1329.6,2466.1 1335.8,2431.7 1342.3,2390.0 1345.8,2313.5 1348.8,2243.9 1350.7,2151.2 1351.8,2102.5 1353.4,2095.5 1354.6,2102.5 1357.4,2167.4 1363.2,2278.7 1366.7,2348.3 1370.1,2427.1 1374.3,2399.3 1379.4,2325.1 1383.4,2250.9 1386.6,2250.9 1389.9,2271.7 1403.3,2383.0 1407.2,2355.2 1411.4,2326.2 1415.6,2329.2 1417.4,2328.6 1418.4,2340.1 1419.5,2341.3 1424.9,2360.6 1426.7,2373.8 1431.6,2380.7 1436.2,2441.0 1441.3,2461.9 1443.4,2464.2 1451.8,2446.8 1453.6,2457.2 1455.5,2461.2 1457.3,2455.4 1467.5,2446.3 1472.2,2447.3 1475.0,2401.6 1482.1,2283.3 1485.4,2197.5 1489.6,2169.7 1492.1,2136.8 1496.5,2167.4 1501.2,2179.0 1503.5,2255.5 1507.4,2348.3 1512.5,2485.1 1515.3,2486.2 1517.9,2471.9 1520.9,2466.1 1526.2,2428.3 1527.8,2428.3 1537.1,2339.0 1542.7,2289.1 1547.1,2323.9 1548.2,2339.4 1563.0,2320.9 1568.3,2373.8 1570.2,2380.0 1571.6,2380.0 1574.8,2301.9 1578.6,2230.0 1583.2,2292.6 1590.4,2388.1 1592.0,2380.7 1594.1,2325.1 1598.3,2199.9 1600.6,2190.6 1604.1,2255.5 1607.5,2336.7 1610.1,2380.7 1611.5,2388.8 1618.9,2370.8 1621.4,2397.0 1624.5,2418.5 1628.4,2394.6 1633.7,2348.3 1636.3,2332.0 1644.6,2370.3 1650.0,2301.9 1652.8,2279.9 1657.4,2214.9 1660.2,2250.9 1663.4,2279.9 1671.5,2294.5 1673.6,2303.0 1677.1,2304.2 1681.5,2351.3 1686.4,2306.5 1690.6,2260.1 1693.6,2238.1 1696.8,2275.2 1703.1,2310.5 1707.7,2308.4 1709.6,2312.3 1712.3,2359.9 1715.4,2424.8 1718.6,2471.2 1725.1,2410.9 1731.6,2311.2 1738.6,2213.8 1744.3,2140.7 1746.7,2136.1 1750.1,2162.8 1754.3,2190.6 1756.6,2232.3 1760.1,2288.0 1763.6,2329.7 1765.2,2371.4 1766.6,2415.5 1774.7,2409.0 1778.0,2345.9 1781.0,2286.8 1784.7,2268.3 1787.5,2277.5 1791.9,2234.6 1796.3,2212.1 1798.8,2262.5 1802.3,2336.7 1804.6,2370.3 1808.6,2355.2 1811.8,2322.8 1819.0,2308.8 1822.3,2279.9 1828.5,2339.0 1832.5,2365.7 1835.7,2385.4 1839.0,2372.1 1843.8,2384.2 1845.7,2391.2 1850.6,2381.9 1854.0,2318.1 1856.8,2269.0 1870.0,2320.4 1873.0,2357.5 1880.5,2428.3 1882.3,2417.8 1888.3,2394.6 1894.6,2438.7 1899.5,2471.2 1903.7,2394.6 1909.7,2289.1 1911.3,2288.7 1920.1,2308.8 1923.4,2336.7 1926.8,2357.5 1930.6,2361.0 1932.4,2367.5 1944.5,2361.7 1946.3,2361.0 1949.5,2370.3 1951.6,2363.3 1954.4,2372.6 1957.4,2278.7 1960.4,2203.3 1963.9,2211.4 1967.4,2213.8 1968.3,2230.0 1974.1,2269.4 1975.5,2274.5 1978.7,2274.5 1980.6,2267.1 1984.3,2299.6 1986.4,2301.2 1996.3,2272.9 2002.1,2313.5 2008.4,2371.4 2011.4,2402.8 2014.4,2386.5 2017.0,2313.5 2018.8,2257.8 2020.0,2246.2 2021.6,2245.1 2027.7,2259.0 2030.4,2332.0 2034.4,2415.5 2038.6,2452.6 2046.2,2465.4 2047.8,2466.5 2056.6,2475.8 2060.6,2475.8 2065.7,2477.0 2068.7,2394.6 2073.3,2255.5 2077.3,2197.5 2083.8,2288.0 2088.6,2361.7 2090.7,2361.7 2093.5,2356.4 2099.5,2396.5 2104.6,2301.9 2110.0,2198.0 2112.8,2195.2 2115.5,2267.1 2118.1,2329.7 2119.5,2340.1 2122.0,2275.2 2129.0,2183.6 2131.5,2183.6 2134.1,2243.9 2141.7,2348.3 2149.9,2442.2 2151.7,2448.0 2155.2,2462.6 2163.3,2442.6 2164.5,2444.0 2167.5,2445.0 2169.6,2434.1 2173.0,2432.9 2177.9,2441.0 2179.8,2452.6 2184.2,2470.5 2187.0,2470.5 2189.3,2480.4 2191.8,2476.3 2195.1,2406.2 2199.7,2308.8 2205.7,2291.0 2209.0,2371.4 2212.5,2452.6 2215.9,2394.6 2222.9,2301.9 2226.6,2192.9 2230.6,2164.6 2234.5,2274.1 2241.4,2390.0 2243.8,2420.1 2247.2,2437.5 2248.4,2441.0 2262.3,2519.0Z" fill="#000"/>
<line x1="201.4" x2="201.4" y1="2060.0" y2="2540.6" stroke="#000" stroke-width="4.45"/>
<line x1="190.2" x2="201.4" y1="2518.6" y2="2518.6" stroke="#333" stroke-width="4.45"/>
<text transform="translate(179.7,2531.7) scale(1,0.962)" font-size="36.1" fill="#4D4D4D" text-anchor="end">0.00</text>
<line x1="190.2" x2="201.4" y1="2412.0" y2="2412.0" stroke="#333" stroke-width="4.45"/>
<text transform="translate(179.7,2425.1) scale(1,0.962)" font-size="36.1" fill="#4D4D4D" text-anchor="end">0.02</text>
<line x1="190.2" x2="201.4" y1="2305.5" y2="2305.5" stroke="#333" stroke-width="4.45"/>
<text transform="translate(179.7,2318.6) scale(1,0.962)" font-size="36.1" fill="#4D4D4D" text-anchor="end">0.04</text>
<line x1="190.2" x2="201.4" y1="2198.9" y2="2198.9" stroke="#333" stroke-width="4.45"/>
<text transform="translate(179.7,2212.0) scale(1,0.962)" font-size="36.1" fill="#4D4D4D" text-anchor="end">0.06</text>
<line x1="190.2" x2="201.4" y1="2092.4" y2="2092.4" stroke="#333" stroke-width="4.45"/>
<text transform="translate(179.7,2105.5) scale(1,0.962)" font-size="36.1" fill="#4D4D4D" text-anchor="end">0.08</text>
<text transform="translate(266.2,2312.6) scale(1,0.962)" font-size="35.8" fill="#1A1A1A" text-anchor="middle">Input</text>
</g>
<text transform="translate(79.2,1291) rotate(-90) scale(0.987,1)" font-size="45.83" fill="#000" text-anchor="middle">P0 H3K4me3 ChIP-seq</text>
<text transform="translate(79.2,2722.5) rotate(-90) scale(0.987,1)" font-size="45.83" fill="#000" text-anchor="middle">Genes</text>
<line x1="201.4" x2="201.4" y1="2598" y2="2847.5" stroke="#000" stroke-width="4.45"/>
<line x1="332.5" x2="2354" y1="2847.4" y2="2847.4" stroke="#000" stroke-width="4.45"/>
<line x1="580" x2="2104" y1="2790.7" y2="2790.7" stroke="#00008B" stroke-width="4.4"/>
<rect x="582" y="2777.3" width="62.7" height="26.8" fill="#00008B"/>
<rect x="729" y="2777.3" width="8.5" height="26.8" fill="#00008B"/>
<rect x="1217" y="2777.3" width="14.5" height="26.8" fill="#00008B"/>
<rect x="1685.3" y="2777.3" width="55.2" height="26.8" fill="#00008B"/>
<rect x="1894" y="2777.3" width="18.0" height="26.8" fill="#00008B"/>
<rect x="2090.4" y="2777.3" width="14.2" height="26.8" fill="#00008B"/>
<path d="M591.4,2781.7L582.4,2790.7L591.4,2799.7M628.2,2781.7L619.2,2790.7L628.2,2799.7M664.9,2781.7L655.9,2790.7L664.9,2799.7M701.7,2781.7L692.7,2790.7L701.7,2799.7M738.4,2781.7L729.4,2790.7L738.4,2799.7M775.2,2781.7L766.2,2790.7L775.2,2799.7M812.0,2781.7L803.0,2790.7L812.0,2799.7M848.7,2781.7L839.7,2790.7L848.7,2799.7M885.5,2781.7L876.5,2790.7L885.5,2799.7M922.2,2781.7L913.2,2790.7L922.2,2799.7M959.0,2781.7L950.0,2790.7L959.0,2799.7M995.8,2781.7L986.8,2790.7L995.8,2799.7M1032.5,2781.7L1023.5,2790.7L1032.5,2799.7M1069.3,2781.7L1060.3,2790.7L1069.3,2799.7M1106.0,2781.7L1097.0,2790.7L1106.0,2799.7M1142.8,2781.7L1133.8,2790.7L1142.8,2799.7M1179.6,2781.7L1170.6,2790.7L1179.6,2799.7M1216.3,2781.7L1207.3,2790.7L1216.3,2799.7M1253.1,2781.7L1244.1,2790.7L1253.1,2799.7M1289.8,2781.7L1280.8,2790.7L1289.8,2799.7M1326.6,2781.7L1317.6,2790.7L1326.6,2799.7M1363.4,2781.7L1354.4,2790.7L1363.4,2799.7M1400.1,2781.7L1391.1,2790.7L1400.1,2799.7M1436.9,2781.7L1427.9,2790.7L1436.9,2799.7M1473.6,2781.7L1464.6,2790.7L1473.6,2799.7M1510.4,2781.7L1501.4,2790.7L1510.4,2799.7M1547.2,2781.7L1538.2,2790.7L1547.2,2799.7M1583.9,2781.7L1574.9,2790.7L1583.9,2799.7M1620.7,2781.7L1611.7,2790.7L1620.7,2799.7M1657.4,2781.7L1648.4,2790.7L1657.4,2799.7M1694.2,2781.7L1685.2,2790.7L1694.2,2799.7M1731.0,2781.7L1722.0,2790.7L1731.0,2799.7M1767.7,2781.7L1758.7,2790.7L1767.7,2799.7M1804.5,2781.7L1795.5,2790.7L1804.5,2799.7M1841.2,2781.7L1832.2,2790.7L1841.2,2799.7M1878.0,2781.7L1869.0,2790.7L1878.0,2799.7M1914.8,2781.7L1905.8,2790.7L1914.8,2799.7M1951.5,2781.7L1942.5,2790.7L1951.5,2799.7M1988.3,2781.7L1979.3,2790.7L1988.3,2799.7M2025.0,2781.7L2016.0,2790.7L2025.0,2799.7M2061.8,2781.7L2052.8,2790.7L2061.8,2799.7" fill="none" stroke="#00008B" stroke-width="4.4" stroke-linejoin="miter"/>
<text transform="translate(1343.8,2709.6) scale(1,0.962)" font-size="29.6" fill="#000" text-anchor="middle">Vmn2r2</text>
<line x1="807.5" x2="807.5" y1="2847" y2="2858.5" stroke="#333" stroke-width="4.45"/>
<text transform="translate(807.5,2893.9) scale(1,0.962)" font-size="36.6" fill="#4D4D4D" text-anchor="middle">64120000</text>
<line x1="1439.0" x2="1439.0" y1="2847" y2="2858.5" stroke="#333" stroke-width="4.45"/>
<text transform="translate(1439.0,2893.9) scale(1,0.962)" font-size="36.6" fill="#4D4D4D" text-anchor="middle">64130000</text>
<line x1="2070.5" x2="2070.5" y1="2847" y2="2858.5" stroke="#333" stroke-width="4.45"/>
<text transform="translate(2070.5,2893.9) scale(1,0.962)" font-size="36.6" fill="#4D4D4D" text-anchor="middle">64140000</text>
<text transform="translate(1343.5,2944.5) scale(1,0.962)" font-size="45.83" fill="#000" text-anchor="middle">chr3 position (bp)</text>
</svg>
</body></html>
